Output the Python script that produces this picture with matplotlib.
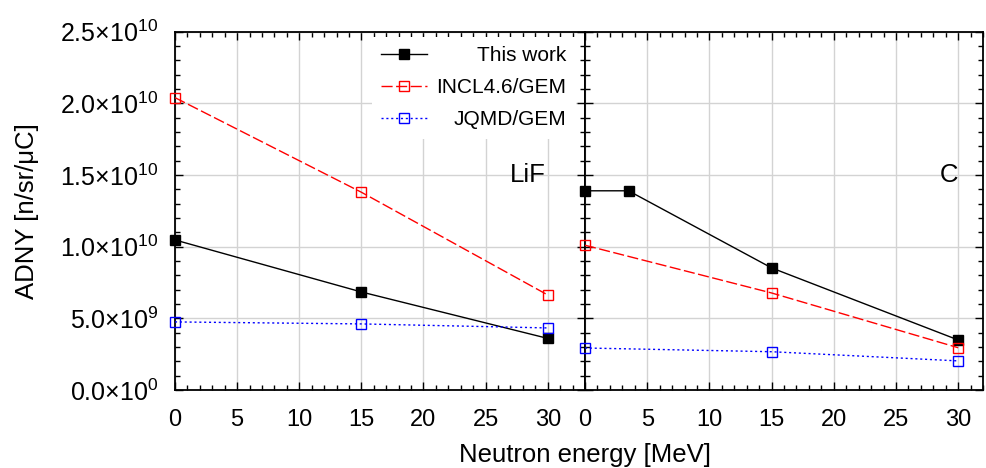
import matplotlib
matplotlib.use('Agg')
import matplotlib.pyplot as plt
from matplotlib.ticker import MultipleLocator, FuncFormatter
from matplotlib.transforms import Affine2D

plt.rcParams['font.family'] = ['Liberation Sans', 'DejaVu Sans']
plt.rcParams['mathtext.fontset'] = 'custom'
plt.rcParams['mathtext.rm'] = 'Liberation Sans'
plt.rcParams['mathtext.it'] = 'Liberation Sans:italic'

# data (ADNY in n/sr/uC)
energy = [0, 15, 30]
lif_this = [1.047e10, 6.84e9, 3.6e9]
lif_incl = [2.04e10, 1.38e10, 6.63e9]
lif_jqmd = [4.75e9, 4.61e9, 4.33e9]

energy_c_this = [0, 3.5, 15, 30]
c_this = [1.39e10, 1.39e10, 8.52e9, 3.49e9]
c_incl = [1.01e10, 6.77e9, 2.95e9]
c_jqmd = [2.93e9, 2.67e9, 2.03e9]

labels = ['This work', 'INCL4.6/GEM', 'JQMD/GEM']


def sci(v, pos):
    if v == 0:
        return r'$\mathrm{0.0{\times}10^{0}}$'
    e = len(str(int(v))) - 1
    m = v / 10**e
    return r'$\mathrm{%.1f{\times}10^{%d}}$' % (m, e)


fig = plt.figure(figsize=(9.87, 4.68), dpi=100)
ax1 = fig.add_axes([0.1773, 0.1667, 0.4154, 0.7655])
ax2 = fig.add_axes([0.5927, 0.1667, 0.4033, 0.7655], sharey=ax1)

styles = dict(
    this=dict(color='black', linestyle='-', marker='s', markersize=6.5,
              markerfacecolor='black', linewidth=1.0),
    incl=dict(color='#ff0000', linestyle=(0, (8, 2.5)), marker='s', markersize=6.5,
              markerfacecolor='none', linewidth=1.0, markeredgewidth=1.0),
    jqmd=dict(color='#0000ff', linestyle=(0, (1.5, 2)), marker='s', markersize=7,
              markerfacecolor='none', linewidth=1.0, markeredgewidth=1.0),
)

ax1.plot(energy, lif_this, label=labels[0], clip_on=False, zorder=5, **styles['this'])
ax1.plot(energy, lif_incl, label=labels[1], clip_on=False, zorder=5, **styles['incl'])
ax1.plot(energy, lif_jqmd, label=labels[2], clip_on=False, zorder=5, **styles['jqmd'])

ax2.plot(energy_c_this, c_this, clip_on=False, zorder=5, **styles['this'])
ax2.plot(energy, c_incl, clip_on=False, zorder=5, **styles['incl'])
ax2.plot(energy, c_jqmd, clip_on=False, zorder=5, **styles['jqmd'])

ax1.set_xlim(0, 33)
ax2.set_xlim(0, 32)
ax1.set_ylim(0, 2.5e10)

for ax in (ax1, ax2):
    ax.xaxis.set_major_locator(MultipleLocator(5))
    ax.xaxis.set_minor_locator(MultipleLocator(1))
    ax.yaxis.set_major_locator(MultipleLocator(5e9))
    ax.yaxis.set_minor_locator(MultipleLocator(1e9))
    ax.tick_params(which='both', direction='in', top=True, right=True, width=1.0)
    ax.tick_params(axis='x', labelsize=17, pad=14)
    ax.tick_params(axis='y', labelsize=18, pad=12)
    ax.tick_params(which='major', length=6)
    ax.tick_params(which='minor', length=3.5)
    ax.grid(True, which='major', color='#d3d3d3', linewidth=1.0)
    ax.set_axisbelow(True)
    for s in ax.spines.values():
        s.set_linewidth(1.3)

ax1.yaxis.set_major_formatter(FuncFormatter(sci))
ax2.tick_params(labelleft=False)

ax1.text(0.861, 0.601, 'LiF', transform=ax1.transAxes, fontsize=18.5,
         ha='center', va='center')
ax2.text(0.914, 0.599, 'C', transform=ax2.transAxes, fontsize=18.5,
         ha='center', va='center')

leg = ax1.legend(loc='upper right', bbox_to_anchor=(0.978, 0.985), fontsize=15,
                 frameon=True, fancybox=False, edgecolor='none', framealpha=1,
                 handlelength=2.2, handletextpad=0.45, labelspacing=0.62,
                 borderpad=0.45, borderaxespad=0)
leg.set_zorder(10)

# right-align legend texts like the reference
fig.canvas.draw()
r = fig.canvas.get_renderer()
texts = leg.get_texts()
right = max(t.get_window_extent(r).x1 for t in texts)
for t in texts:
    dx = right - t.get_window_extent(r).x1
    t.set_transform(t.get_transform() + Affine2D().translate(dx, 0))

fig.text(0.5927, 0.028, 'Neutron energy [MeV]', fontsize=18.5,
         ha='center', va='center')
fig.text(0.027, 0.549, 'ADNY [n/sr/\u03bcC]', fontsize=18.5,
         ha='center', va='center', rotation=90)

fig.savefig('out.png', dpi=100)
